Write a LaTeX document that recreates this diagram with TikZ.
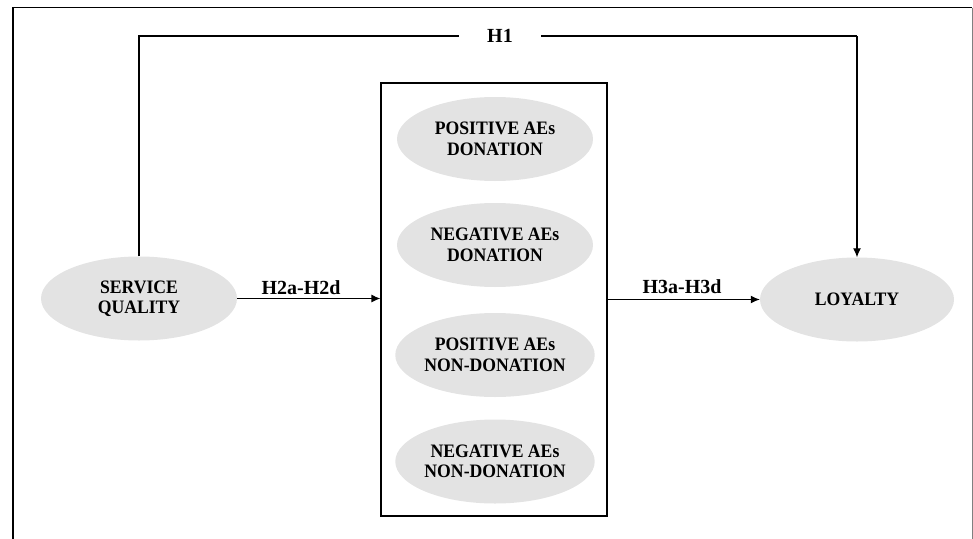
\documentclass[tikz,border=0pt]{standalone}
\usepackage{fontspec}
\setmainfont{Liberation Serif}
\newfontfamily\narrowserif[FakeStretch=0.93]{Liberation Serif}
\usetikzlibrary{shapes.geometric,arrows.meta}
\definecolor{ellgray}{HTML}{E3E3E3}
\begin{document}
\begin{tikzpicture}[x=1pt,y=-1pt,
  blob/.style={ellipse,fill=ellgray,draw=none,minimum width=196pt,minimum height=84pt,inner sep=0pt,align=center,font=\narrowserif\fontsize{19}{20.5}\selectfont\bfseries},
  lbl/.style={font=\fontsize{20}{22}\selectfont\bfseries,inner sep=0pt},
  conn/.style={line width=1.2pt},
  arr/.style={conn,-{Latex[length=9pt,width=8pt]}}]
\useasboundingbox (0,0) rectangle (973,538);
% outer frame
\draw[line width=1.6pt] (13,540) -- (13,7.5) -- (972,7.5);
\draw[line width=0.8pt,gray] (972,7.5) -- (972,540);
% inner box
\node[draw,line width=1.2pt,minimum width=226pt,minimum height=433pt,inner sep=0pt] (box) at (494,299.5) {};
\node[blob] (e1) at (495,139) {POSITIVE AEs\\DONATION};
\node[blob] (e2) at (495,245) {NEGATIVE AEs\\DONATION};
\node[blob] (e3) at (495,355) {POSITIVE AEs\\NON-DONATION};
\node[blob] (e4) at (495,461.5) {NEGATIVE AEs\\NON-DONATION};
\node[blob] (sq) at (139,298.5) {SERVICE\\QUALITY};
\node[blob,minimum width=194pt] (loy) at (857,299.5) {LOYALTY};
% H1 connector
\coordinate (c1) at (139,36);
\coordinate (c2) at (857,36);
\draw[conn] (sq.north) -- (c1) -- (c2);
\draw[arr] (c2) -- (loy.north);
\node[lbl,fill=white,minimum width=82pt,minimum height=20pt] (h1) at (500,36) {H1};
% H2, H3
\draw[arr] (sq.east) -- (sq.east -| box.west);
\draw[arr] (loy.west -| box.east) -- (loy.west);
\node[lbl] (h2) at (301,288) {H2a-H2d};
\node[lbl] (h3) at (682,287) {H3a-H3d};
\end{tikzpicture}
\end{document}
